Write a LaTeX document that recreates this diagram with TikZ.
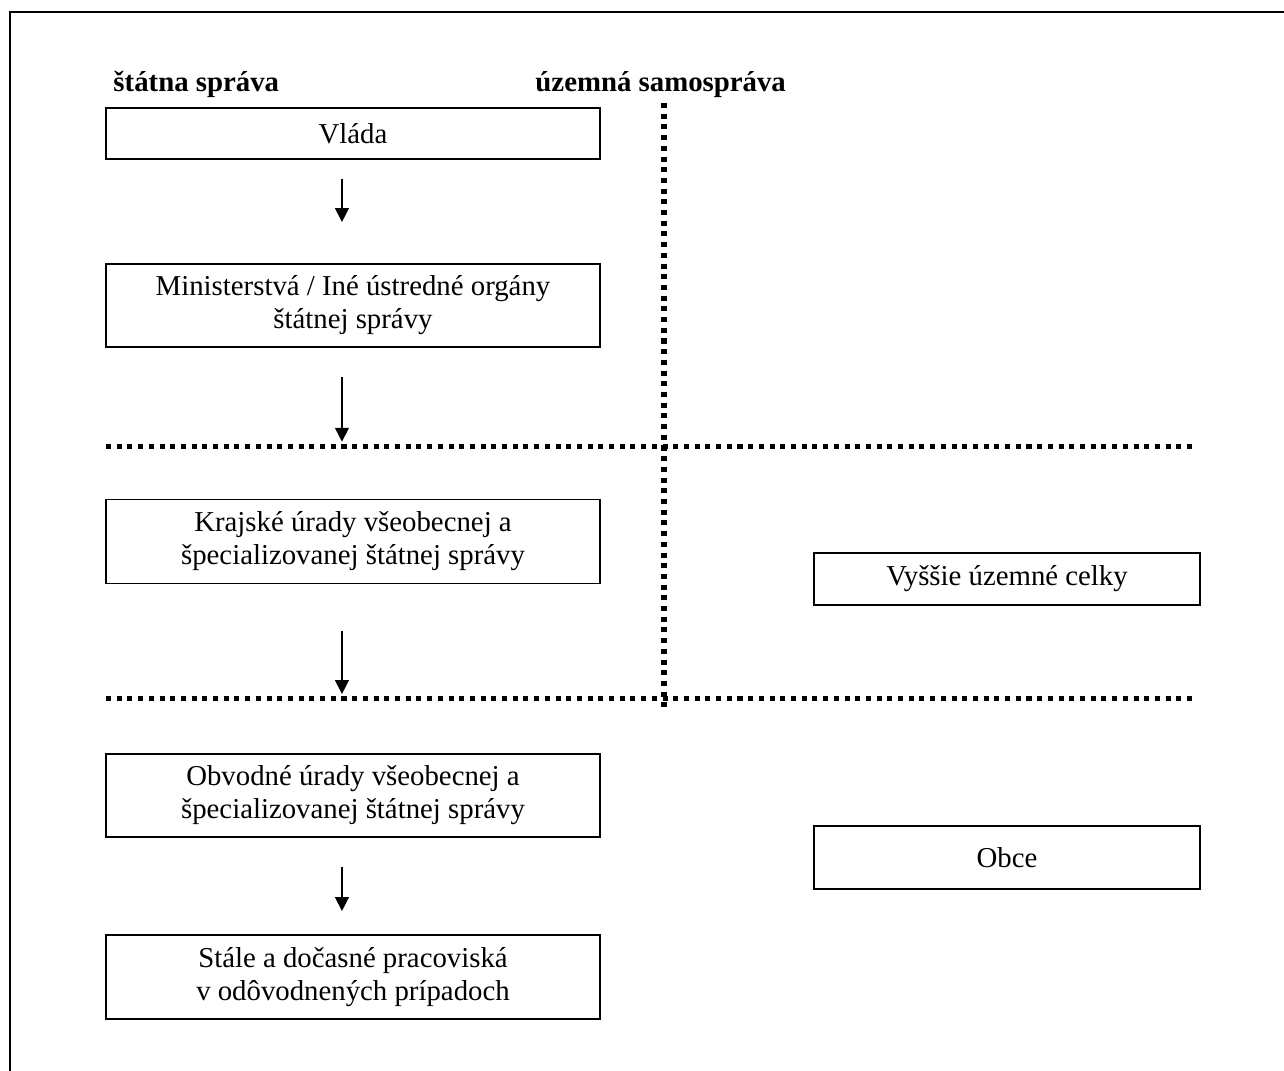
\documentclass[tikz,border=0pt]{standalone}
\usepackage{fontspec}
\setmainfont{Liberation Serif}
\usetikzlibrary{arrows.meta}
\begin{document}
\begin{tikzpicture}[x=0.4167pt,y=-0.4167pt,
  font=\fontsize{12pt}{13.8pt}\selectfont,
  box/.style={draw,line width=0.8pt,rectangle,inner sep=0pt,align=center,
    minimum width=205.9pt},
  rbox/.style={draw,line width=0.8pt,rectangle,inner sep=0pt,align=center,
    minimum width=160.8pt},
  arr/.style={line width=0.6pt,-{Triangle[length=5.8pt,width=5.8pt]}},
  sep/.style={line width=2.1pt,dash pattern=on 2.1pt off 2.36pt},
  head/.style={font=\fontsize{12pt}{13.8pt}\selectfont\bfseries,anchor=base west,inner sep=0pt}]
\useasboundingbox (0,0) rectangle (1284,1071);
% outer frame
\draw[line width=0.65pt] (10,1071) -- (10,12) -- (1284,12);

% column headings
\node[head] (hs) at (113,92) {štátna správa};
\node[head] (hu) at (535,92) {územná samospráva};

% separators
\coordinate (vt) at (664,103);
\coordinate (vb) at (664,708);
\coordinate (h1a) at (106,446.5);
\coordinate (h1b) at (1197,446.5);
\coordinate (h2a) at (106,698.5);
\coordinate (h2b) at (1197,698.5);
\draw[sep] (vt) -- (vb);
\draw[sep] (h1a) -- (h1b);
\draw[sep] (h2a) -- (h2b);

% state administration
\node[box,minimum height=21.3pt] (vlada) at (353,133.5) {Vláda};
\node[box,minimum height=34.6pt] (min) at (353,305.5) {Ministerstvá / Iné ústredné orgány\\štátnej správy};
\node[box,minimum height=35pt] (kraj) at (353,541.5) {Krajské úrady všeobecnej a\\špecializovanej štátnej správy};
\node[box,minimum height=34.6pt] (obv) at (353,795.5) {Obvodné úrady všeobecnej a\\špecializovanej štátnej správy};
\node[box,minimum height=35pt] (stale) at (353,977) {Stále a dočasné pracoviská\\v odôvodnených prípadoch};

% self-government
\node[rbox,minimum height=21.3pt] (vuc) at (1007,579) {Vyššie územné celky};
\node[rbox,minimum height=26.3pt] (obce) at (1007,857.5) {Obce};

% hierarchy arrows
\draw[arr,shorten <=7.9pt,shorten >=17.1pt] ([xshift=-4.6pt]vlada.south) -- ([xshift=-4.6pt]min.north);
\draw[arr,shorten <=12.1pt,shorten >=23.7pt] ([xshift=-4.6pt]min.south) -- ([xshift=-4.6pt]kraj.north);
\draw[arr,shorten <=19.2pt,shorten >=24.6pt] ([xshift=-4.6pt]kraj.south) -- ([xshift=-4.6pt]obv.north);
\draw[arr,shorten <=12.1pt,shorten >=9.6pt] ([xshift=-4.6pt]obv.south) -- ([xshift=-4.6pt]stale.north);
\end{tikzpicture}
\end{document}
